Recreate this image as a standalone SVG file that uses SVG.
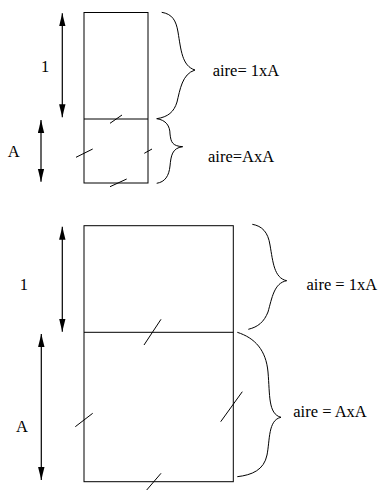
<svg xmlns="http://www.w3.org/2000/svg" width="383" height="490" viewBox="0 0 383 490">
<defs>
<style>
.ln{stroke:#000;stroke-width:1;fill:none}
.tk{stroke:#000;stroke-width:1;fill:none}
.br{stroke:#000;stroke-width:1;fill:none}
.ar{stroke:#000;stroke-width:1.2;fill:none;marker-start:url(#ah);marker-end:url(#ah)}
text{font-family:"Liberation Serif","Times New Roman",serif;font-size:16.5px;fill:#000}
</style>
<marker id="ah" markerUnits="userSpaceOnUse" markerWidth="14" markerHeight="8" refX="13" refY="3.2" orient="auto-start-reverse">
<path d="M0,0 L13,3.2 L0,6.4 Z" fill="#000"/>
</marker>
</defs>
<rect width="383" height="490" fill="#fff"/>
<g id="top-rect">
<rect class="ln" x="84" y="12.5" width="64" height="170.5"/>
<line class="ln" x1="84" y1="119" x2="148" y2="119"/>
<line class="tk" x1="110" y1="123.3" x2="122" y2="115"/>
<line class="tk" x1="76" y1="157.3" x2="92.7" y2="149"/>
<line class="tk" x1="144.3" y1="153.3" x2="152" y2="149"/>
<line class="tk" x1="110" y1="186.7" x2="126.7" y2="179"/>
</g>
<g id="top-labels">
<text x="45" y="71.7" text-anchor="middle">1</text>
<text x="13.8" y="156.7" text-anchor="middle">A</text>
<text x="212.7" y="76">aire= 1xA</text>
<text x="208" y="162.3">aire=AxA</text>
</g>
<g id="bottom-rect">
<rect class="ln" x="84" y="225.7" width="149.3" height="256"/>
<line class="ln" x1="84" y1="332.3" x2="233.3" y2="332.3"/>
<line class="tk" x1="144" y1="345" x2="161" y2="319.3"/>
<line class="tk" x1="75.3" y1="426.7" x2="92.7" y2="413.3"/>
<line class="tk" x1="220.7" y1="421.7" x2="242.3" y2="391.7"/>
<line class="tk" x1="146.7" y1="490" x2="161" y2="473.3"/>
</g>
<g id="bottom-labels">
<text x="23.8" y="290" text-anchor="middle">1</text>
<text x="22" y="431.7" text-anchor="middle">A</text>
<text x="306.5" y="289.5">aire = 1xA</text>
<text x="293.3" y="417.3">aire = AxA</text>
</g>
<g id="connectors">
<line class="ar" x1="62.3" y1="13.3" x2="62.3" y2="117.3"/>
<line class="ar" x1="41" y1="120" x2="41" y2="181.7"/>
<line class="ar" x1="62.3" y1="226.7" x2="62.3" y2="331.7"/>
<line class="ar" x1="41.3" y1="334" x2="41.3" y2="480"/>
<path class="br" d="M161.7,12.3 C172,14 176,20 178,32 C181,50 182,66 195,70 C182,74 180,90 177,102 C174,112 168,117 156.7,118.7"/>
<path class="br" d="M156.7,118.7 C166,120 170,126 170,134 C171,142 172,146 182.7,146.7 C172,148 171,156 170,166 C169,176 165,182 156.7,183.3"/>
<path class="br" d="M252.3,224.3 C262,226 268,232 270,245 C273,262 274,278 286.7,280.7 C274,283 272,298 268,312 C264,322 258,327 248.3,329.3"/>
<path class="br" d="M237.3,332.3 C255,338 266,350 268,372 C270,395 268,414 281,417.3 C268,420 270,440 267,455 C264,470 252,475 237.3,476.7"/>
</g>
</svg>
